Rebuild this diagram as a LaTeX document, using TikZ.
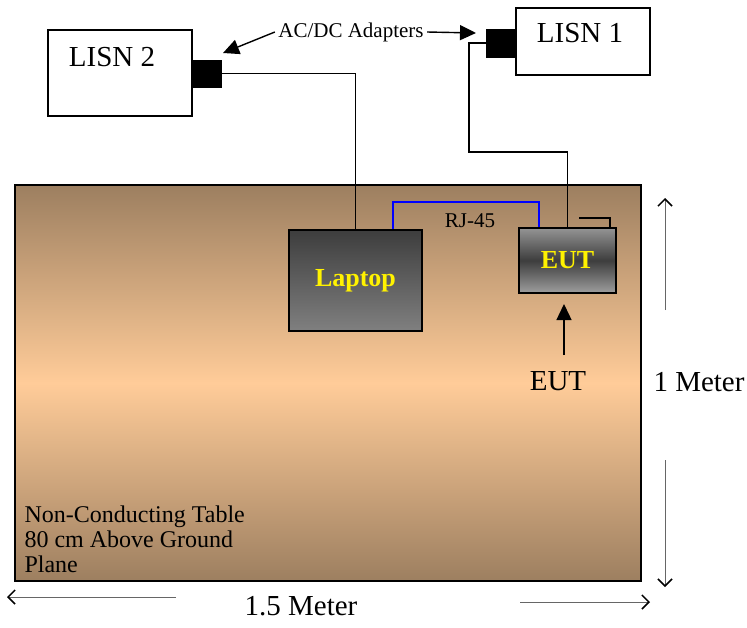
\documentclass[tikz,border=0pt]{standalone}
\usepackage{fontspec}
\setmainfont{Liberation Serif}
\usepackage{tikz}
\usetikzlibrary{arrows,arrows.meta}

\definecolor{tabletop}{RGB}{157,127,96}
\definecolor{tablemid}{RGB}{255,204,153}
\definecolor{rjblue}{RGB}{0,0,255}

\tikzset{
  lisnbox/.style={draw, line width=1.4pt, fill=white},
  adapter/.style={fill=black, draw=black, minimum width=30pt, minimum height=27pt, inner sep=0pt},
  wire/.style={line width=1.4pt},
  pointer/.style={line width=1.4pt, -{Triangle[length=16pt,width=15pt]}},
  dimarrow/.style={draw=gray!80!black, line width=0.8pt, -{Straight Barb[black,length=7pt,width=14pt,line width=1.5pt]}},
  bigtext/.style={font=\fontsize{29}{34}\selectfont},
  smalltext/.style={font=\fontsize{21}{25}\selectfont}
}

\begin{document}
\begin{tikzpicture}[x=1pt,y=-1pt]
\useasboundingbox (0,0) rectangle (747,627);

% table
\node [draw, line width=1.6pt, minimum width=626pt, minimum height=396pt,
  top color=tabletop, bottom color=tabletop, middle color=tablemid] (table) at (328,383) {};
\node [anchor=west, align=left, font=\fontsize{24}{25}\selectfont] (tabletext) at (21,539)
  {Non-Conducting Table\\80 cm Above Ground\\Plane};

% LISNs and adapters
\node [lisnbox, minimum width=144pt, minimum height=86pt] (lisnB) at (120,73) {};
\node [bigtext] (lisnBtext) at (112,57) {LISN 2};
\node [adapter] (adapterB) at (206,73.5) {};
\node [lisnbox, minimum width=134pt, minimum height=67pt] (lisnA) at (583,41.5) {};
\node [bigtext] (lisnAtext) at (580,33) {LISN 1};
\node [adapter, minimum height=28pt] (adapterA) at (501,43) {};

% equipment on table
\node [draw, line width=1.6pt, minimum width=133pt, minimum height=101pt,
  top color=black!76, bottom color=black!50, text=yellow,
  font=\bfseries\fontsize{26}{30}\selectfont] (laptop) at (355.5,280.5) {Laptop};
\node [draw, line width=1.6pt, minimum width=97pt, minimum height=65pt,
  top color=black!42, bottom color=black!38, middle color=black!76, text=yellow,
  font=\bfseries\fontsize{26}{30}\selectfont] (eut) at (567.5,260.5) {EUT};

% power wires
\draw [wire] (adapterB.east) -| (laptop.north);
\coordinate (bendA) at (469,152);
\draw [wire] (adapterA.west) -| (bendA) -| (eut.north);
\coordinate (hook) at (579,218);
\draw [line width=2.8pt] (hook) -| ([xshift=42.5pt]eut.north);

% RJ-45
\coordinate (rjtop) at (466,202);
\draw [rjblue, line width=2.6pt] ([xshift=37.5pt]laptop.north) |- (rjtop) -| ([xshift=-28.5pt]eut.north);
\node [smalltext] (rj) at (470,221) {RJ-45};

% adapter labels
\node [smalltext] (acdc) at (351,32) {AC/DC Adapters};
\coordinate (tipB) at (223,53);
\coordinate (tipA) at (476,33);
\draw [pointer] (acdc.west) -- (tipB);
\draw [pointer] (acdc.east) -- (tipA);

% EUT pointer
\node [bigtext] (euttext) at (558,381) {EUT};
\coordinate (eutptr) at (564,304);
\coordinate (eutfoot) at (564,355);
\draw [pointer] (eutfoot) -- (eutptr);

% dimensions
\node [bigtext] (meterV) at (699,382) {1 Meter};
\coordinate (vtop) at (665,198);
\coordinate (vbot) at (665,587);
\draw [dimarrow] (665,310) -- (vtop);
\draw [dimarrow] (665,460) -- (vbot);
\node [bigtext] (meterH) at (301,606) {1.5 Meter};
\coordinate (hleft) at (7,597);
\coordinate (hright) at (650,602);
\draw [dimarrow] (176,597) -- (hleft);
\draw [dimarrow] (520,602) -- (hright);
\end{tikzpicture}
\end{document}
